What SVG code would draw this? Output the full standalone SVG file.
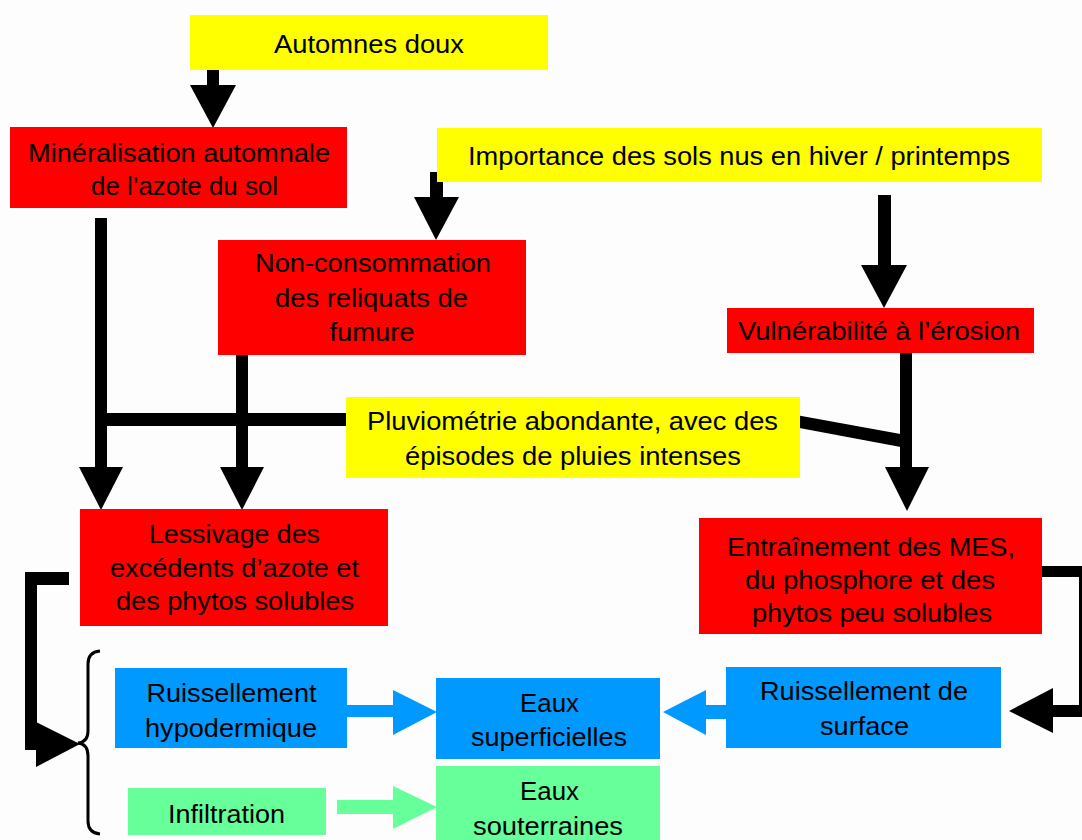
<svg xmlns="http://www.w3.org/2000/svg" width="1082" height="840" viewBox="0 0 1082 840">
<style>
text{font-family:"Liberation Sans",Arial,sans-serif;font-size:26px;fill:#000;text-anchor:middle}
.y{fill:#FFFF00}.r{fill:#FF0000}.b{fill:#0099FF}.g{fill:#66FF99}
.k{fill:#000}
</style>
<rect width="1082" height="840" fill="#fdfdfd"/>
<g id="connectors">
  <!-- Automnes -> Mineralisation -->
  <rect class="k" x="207" y="59" width="12" height="27"/>
  <polygon class="k" points="190,85 236,85 213,128"/>
  <!-- Importance -> Non-consommation -->
  <rect class="k" x="430" y="172" width="13" height="26"/>
  <polygon class="k" points="414,197 459,197 436,240"/>
  <!-- Importance -> Vulnerabilite -->
  <rect class="k" x="878" y="195" width="13" height="71"/>
  <polygon class="k" points="861,265 907,265 884,308"/>
  <!-- Mineralisation -> Lessivage -->
  <rect class="k" x="95" y="218" width="12" height="250"/>
  <polygon class="k" points="79,467 123,467 101,510"/>
  <!-- Non-consommation -> Lessivage -->
  <rect class="k" x="236" y="352" width="12" height="116"/>
  <polygon class="k" points="220,467 264,467 242,510"/>
  <!-- Pluviometrie horizontal bar -->
  <rect class="k" x="95" y="413" width="252" height="13"/>
  <!-- Vulnerabilite -> Entrainement -->
  <rect class="k" x="900" y="352" width="12" height="116"/>
  <polygon class="k" points="885,467 929,467 907,511"/>
  <!-- Pluviometrie diagonal -->
  <polygon class="k" points="796,415 906,435 906,448 794,427"/>
  <!-- Lessivage -> brace -->
  <rect class="k" x="27" y="572" width="42" height="13"/>
  <rect class="k" x="25" y="572" width="12" height="178"/>
  <polygon class="k" points="36,722 36,767 80,744"/>
  <path d="M100,651 Q88,652 88,664 V731 Q88,742 78,743 Q88,744 88,756 V821 Q88,833 100,834" fill="none" stroke="#000" stroke-width="3"/>
  <!-- Ruissellement hypodermique -> Eaux superficielles -->
  <rect class="b" x="347" y="705" width="47" height="12"/>
  <polygon class="b" points="393,690 393,735 437,712"/>
  <!-- Infiltration -> Eaux souterraines -->
  <rect class="g" x="337" y="800" width="57" height="14"/>
  <polygon class="g" points="393,786 393,829 437,807"/>
  <!-- Ruissellement de surface -> Eaux superficielles -->
  <rect class="b" x="705" y="705" width="22" height="14"/>
  <polygon class="b" points="706,690 706,735 663,712"/>
  <!-- Entrainement -> Ruissellement de surface -->
  <rect class="k" x="1040" y="566" width="51" height="11"/>
  <rect class="k" x="1079" y="566" width="12" height="151"/>
  <rect class="k" x="1052" y="705" width="39" height="12"/>
  <polygon class="k" points="1053,688 1053,733 1009,711"/>
</g>
<g id="automnes">
  <rect class="y" x="190" y="15" width="358" height="55"/>
  <text x="369" y="53" textLength="190" lengthAdjust="spacingAndGlyphs">Automnes doux</text>
</g>
<g id="mineralisation">
  <rect class="r" x="10" y="127" width="337" height="81"/>
  <text x="179" y="162" textLength="302" lengthAdjust="spacingAndGlyphs">Minéralisation automnale</text>
  <text x="184.5" y="195" textLength="187" lengthAdjust="spacingAndGlyphs">de l’azote du sol</text>
</g>
<g id="importance">
  <rect class="y" x="437" y="128" width="605" height="54"/>
  <text x="739" y="165" textLength="542" lengthAdjust="spacingAndGlyphs">Importance des sols nus en hiver / printemps</text>
</g>
<g id="non-consommation">
  <rect class="r" x="218" y="240" width="308" height="115"/>
  <text x="373" y="272" textLength="236" lengthAdjust="spacingAndGlyphs">Non-consommation</text>
  <text x="371.5" y="307" textLength="193" lengthAdjust="spacingAndGlyphs">des reliquats de</text>
  <text x="372" y="341" textLength="85" lengthAdjust="spacingAndGlyphs">fumure</text>
</g>
<g id="vulnerabilite">
  <rect class="r" x="727" y="308" width="307" height="45"/>
  <text x="879" y="340" textLength="282" lengthAdjust="spacingAndGlyphs">Vulnérabilité à l’érosion</text>
</g>
<g id="pluviometrie">
  <rect class="y" x="346" y="397" width="454" height="81"/>
  <text x="572.5" y="430" textLength="411" lengthAdjust="spacingAndGlyphs">Pluviométrie abondante, avec des</text>
  <text x="573" y="465" textLength="336" lengthAdjust="spacingAndGlyphs">épisodes de pluies intenses</text>
</g>
<g id="lessivage">
  <rect class="r" x="80" y="509" width="308" height="117"/>
  <text x="234.5" y="543" textLength="171" lengthAdjust="spacingAndGlyphs">Lessivage des</text>
  <text x="234.5" y="577" textLength="249" lengthAdjust="spacingAndGlyphs">excédents d’azote et</text>
  <text x="235" y="610" textLength="238" lengthAdjust="spacingAndGlyphs">des phytos solubles</text>
</g>
<g id="entrainement">
  <rect class="r" x="699" y="518" width="343" height="116"/>
  <text x="871" y="556" textLength="288" lengthAdjust="spacingAndGlyphs">Entraînement des MES,</text>
  <text x="870" y="589" textLength="250" lengthAdjust="spacingAndGlyphs">du phosphore et des</text>
  <text x="872" y="622" textLength="240" lengthAdjust="spacingAndGlyphs">phytos peu solubles</text>
</g>
<g id="ruissellement-hypodermique">
  <rect class="b" x="115" y="668" width="232" height="80"/>
  <text x="231.5" y="702" textLength="170" lengthAdjust="spacingAndGlyphs">Ruissellement</text>
  <text x="231" y="737" textLength="172" lengthAdjust="spacingAndGlyphs">hypodermique</text>
</g>
<g id="eaux-superficielles">
  <rect class="b" x="436" y="678" width="224" height="81"/>
  <text x="549.5" y="712" textLength="59" lengthAdjust="spacingAndGlyphs">Eaux</text>
  <text x="549" y="746" textLength="156" lengthAdjust="spacingAndGlyphs">superficielles</text>
</g>
<g id="ruissellement-surface">
  <rect class="b" x="726" y="667" width="275" height="81"/>
  <text x="864" y="700" textLength="208" lengthAdjust="spacingAndGlyphs">Ruissellement de</text>
  <text x="864.5" y="735" textLength="89" lengthAdjust="spacingAndGlyphs">surface</text>
</g>
<g id="infiltration">
  <rect class="g" x="128" y="788" width="198" height="47"/>
  <text x="226.5" y="823" textLength="117" lengthAdjust="spacingAndGlyphs">Infiltration</text>
</g>
<g id="eaux-souterraines">
  <rect class="g" x="436" y="766" width="224" height="80"/>
  <text x="549.5" y="800" textLength="59" lengthAdjust="spacingAndGlyphs">Eaux</text>
  <text x="548" y="835" textLength="150" lengthAdjust="spacingAndGlyphs">souterraines</text>
</g>
</svg>
